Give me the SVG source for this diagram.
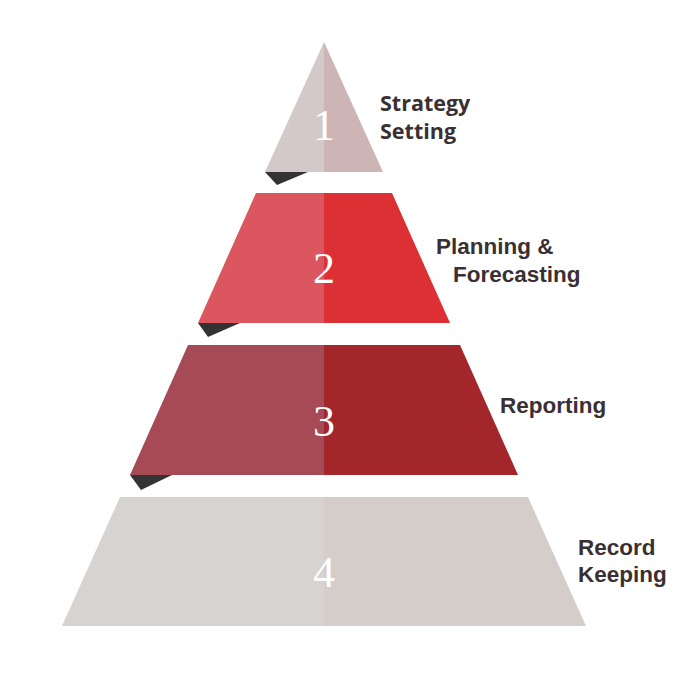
<svg xmlns="http://www.w3.org/2000/svg" width="700" height="700" viewBox="0 0 700 700">
  <style>
    .num { font-family: "Liberation Serif", "DejaVu Serif", serif; font-size: 44px; fill: #ffffff; text-anchor: middle; }
    .lbl { font-family: "Liberation Sans", Arial, sans-serif; font-weight: bold; font-size: 22.5px; fill: #3a3033; }
    .lbl1 { font-family: "Open Sans", "Liberation Sans", sans-serif; font-weight: bold; font-size: 21.5px; fill: #3a3033; }
    .fold { fill: #333333; }
  </style>
  <rect width="700" height="700" fill="#ffffff"/>
  <g id="level1">
    <polygon class="fold" points="265,172 308,172 277,185"/>
    <polygon points="324,42 265,172 324,172" fill="#d3c9c8"/>
    <polygon points="324,42 383,172 324,172" fill="#cdb4b5"/>
    <text class="num" x="324" y="140">1</text>
    <text class="lbl1" x="380" y="111">Strategy</text>
    <text class="lbl1" x="380" y="139">Setting</text>
  </g>
  <g id="level2">
    <polygon class="fold" points="198,323 240,323 208,337"/>
    <polygon points="256,193 324,193 324,323 198,323" fill="#dc5660"/>
    <polygon points="324,193 392,193 450,323 324,323" fill="#dc3035"/>
    <text class="num" x="324" y="283">2</text>
    <text class="lbl" x="436" y="254">Planning &amp;</text>
    <text class="lbl" x="453" y="282">Forecasting</text>
  </g>
  <g id="level3">
    <polygon class="fold" points="130,475 172,475 141,490"/>
    <polygon points="188,345 324,345 324,475 130,475" fill="#a64a55"/>
    <polygon points="324,345 460,345 518,475 324,475" fill="#a2262a"/>
    <text class="num" x="324" y="436">3</text>
    <text class="lbl" x="500" y="413">Reporting</text>
  </g>
  <g id="level4">
    <polygon points="120,497 324,497 324,626 62,626" fill="#d6d3d0"/>
    <polygon points="324,497 528,497 586,626 324,626" fill="#d5cdca"/>
    <text class="num" x="324" y="587">4</text>
    <text class="lbl" x="578" y="555">Record</text>
    <text class="lbl" x="578" y="582">Keeping</text>
  </g>
  <g id="connectors"></g>
</svg>
